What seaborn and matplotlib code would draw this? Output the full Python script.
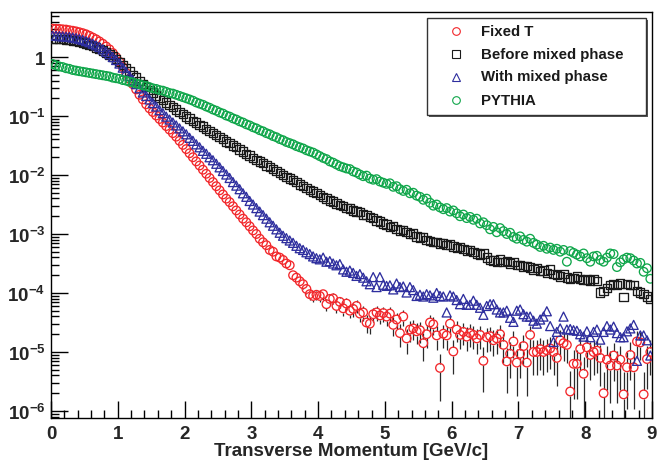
import numpy as np
import matplotlib
matplotlib.use("Agg")
import matplotlib.pyplot as plt
from matplotlib.lines import Line2D
from matplotlib.patches import Rectangle
from matplotlib.ticker import FixedLocator, FuncFormatter, MultipleLocator, NullFormatter
import seaborn as sns

# transverse-momentum histogram: 180 bins of 0.05 GeV/c from 0 to 9
pt_edges = np.linspace(0.0, 9.0, 181)
pt = 0.5 * (pt_edges[:-1] + pt_edges[1:])

fixed_t = [
    3.02, 3.01, 2.99, 2.95, 2.92, 2.85, 2.79, 2.72, 2.63, 2.54,
    2.43, 2.29, 2.14, 2.00, 1.84, 1.68, 1.51, 1.35, 1.17, 1.00,
    0.832, 0.676, 0.537, 0.427, 0.347, 0.282, 0.229, 0.191, 0.158, 0.135,
    0.117, 0.102, 0.0891, 0.0776, 0.0676, 0.0589, 0.0513, 0.0447, 0.0380, 0.0324,
    0.0275, 0.0234, 0.0200, 0.0170, 0.0145, 0.0123, 0.0105, 0.00891, 0.00759, 0.00646,
    0.00550, 0.00468, 0.00398, 0.00347, 0.00295, 0.00251, 0.00214, 0.00182, 0.00158, 0.00135,
    1.15e-3, 1.00e-3, 8.32e-4, 7.24e-4, 6.46e-4, 5.37e-4, 5.01e-4, 4.17e-4, 3.98e-4, 3.63e-4,
    3.16e-4, 2.95e-4, 2.00e-4, 1.82e-4, 1.58e-4, 1.41e-4, 1.17e-4, 9.55e-5, 8.91e-5, 9.33e-5,
    8.91e-5, 9.55e-5, 6.46e-5, 7.94e-5, 8.13e-5, 6.03e-5, 7.08e-5, 5.50e-5, 6.61e-5, 5.01e-5,
    5.37e-5, 6.03e-5, 4.47e-5, 4.68e-5, 3.16e-5, 3.02e-5, 4.37e-5, 4.68e-5, 4.17e-5, 4.57e-5,
    3.98e-5, 4.47e-5, 2.88e-5, 3.55e-5, 2.09e-5, 3.98e-5, 1.70e-5, 2.40e-5, 2.51e-5, 2.24e-5,
    2.34e-5, 1.41e-5, 2.00e-5, 3.16e-5, 2.95e-5, 1.91e-5, 5.37e-6, 2.04e-5, 1.91e-5, 3.02e-5,
    1.02e-5, 2.40e-5, 1.95e-5, 2.19e-5, 1.82e-5, 2.09e-5, 1.95e-5, 1.70e-5, 1.95e-5, 7.08e-6,
    1.78e-5, 1.86e-5, 1.58e-5, 1.70e-5, 2.00e-5, 1.32e-5, 6.92e-6, 9.33e-6, 1.51e-5, 6.61e-6,
    9.33e-6, 1.26e-5, 6.61e-6, 1.95e-5, 1.00e-5, 1.00e-5, 1.12e-5, 1.00e-5, 1.07e-5, 1.15e-5,
    1.00e-5, 7.94e-6, 1.58e-5, 1.41e-5, 1.32e-5, 2.14e-6, 6.31e-6, 6.31e-6, 1.12e-5, 4.27e-6,
    1.20e-5, 8.91e-6, 1.00e-5, 1.05e-5, 7.94e-6, 2.00e-6, 7.41e-6, 5.89e-6, 8.71e-6, 5.89e-6,
    7.41e-6, 1.91e-6, 5.50e-6, 8.91e-6, 5.50e-6, 1.51e-5, 1.45e-5, 1.91e-6, 7.59e-6, 1.00e-5,
]

# statistical errors of the fixed-T spectrum (negligible below 3 GeV/c)
fixed_t_err = [0.0] * 60 + [
    6.3e-5, 5.9e-5, 5.4e-5, 5.0e-5, 4.8e-5, 4.3e-5, 4.2e-5, 3.8e-5, 3.7e-5, 3.6e-5,
    3.3e-5, 3.2e-5, 2.6e-5, 2.5e-5, 2.4e-5, 2.2e-5, 2.0e-5, 1.8e-5, 1.8e-5, 1.8e-5,
    1.8e-5, 1.8e-5, 1.5e-5, 1.7e-5, 1.7e-5, 1.5e-5, 1.6e-5, 1.4e-5, 1.5e-5, 1.3e-5,
    1.4e-5, 1.5e-5, 1.3e-5, 1.3e-5, 1.05e-5, 1.0e-5, 1.2e-5, 1.3e-5, 1.2e-5, 1.3e-5,
    1.2e-5, 1.3e-5, 1.0e-5, 1.1e-5, 8.6e-6, 1.2e-5, 7.7e-6, 9.2e-6, 9.4e-6, 8.9e-6,
    9.1e-6, 7.0e-6, 8.4e-6, 1.05e-5, 1.0e-5, 8.2e-6, 3.9e-6, 8.5e-6, 8.2e-6, 1.0e-5,
    6.0e-6, 9.2e-6, 8.3e-6, 8.8e-6, 8.0e-6, 8.6e-6, 8.3e-6, 7.7e-6, 8.3e-6, 5.0e-6,
    7.9e-6, 8.1e-6, 7.4e-6, 7.7e-6, 8.4e-6, 6.8e-6, 4.9e-6, 5.7e-6, 7.3e-6, 4.8e-6,
    5.7e-6, 6.6e-6, 4.8e-6, 8.3e-6, 5.9e-6, 5.9e-6, 6.3e-6, 5.9e-6, 6.1e-6, 6.3e-6,
    5.9e-6, 5.3e-6, 7.4e-6, 7.0e-6, 6.8e-6, 2.7e-6, 4.7e-6, 4.7e-6, 6.3e-6, 3.9e-6,
    6.5e-6, 5.6e-6, 5.9e-6, 6.1e-6, 5.3e-6, 2.6e-6, 5.1e-6, 4.5e-6, 5.5e-6, 4.5e-6,
    5.1e-6, 2.6e-6, 4.4e-6, 5.6e-6, 4.4e-6, 7.3e-6, 7.1e-6, 2.6e-6, 5.2e-6, 5.9e-6,
]

before_mixed = [
    2.04, 2.04, 2.02, 2.00, 1.97, 1.95, 1.91, 1.86, 1.82, 1.76,
    1.70, 1.62, 1.55, 1.46, 1.38, 1.29, 1.20, 1.11, 1.02, 0.933,
    0.832, 0.741, 0.646, 0.575, 0.501, 0.447, 0.389, 0.347, 0.309, 0.275,
    0.251, 0.224, 0.204, 0.186, 0.170, 0.155, 0.141, 0.129, 0.117, 0.107,
    0.0977, 0.0912, 0.0832, 0.0776, 0.0708, 0.0661, 0.0603, 0.0562, 0.0513, 0.0479,
    0.0437, 0.0407, 0.0372, 0.0347, 0.0316, 0.0295, 0.0269, 0.0251, 0.0229, 0.0214,
    0.0195, 0.0182, 0.0170, 0.0158, 0.0145, 0.0135, 0.0126, 0.0117, 0.0107, 0.0100,
    0.00933, 0.00871, 0.00813, 0.00759, 0.00692, 0.00646, 0.00603, 0.00562, 0.00525, 0.00490,
    0.00457, 0.00427, 0.00398, 0.00372, 0.00355, 0.00331, 0.00309, 0.00302, 0.00275, 0.00269,
    0.00251, 0.00240, 0.00234, 0.00214, 0.00209, 0.00195, 0.00186, 0.00170, 0.00162, 0.00151,
    0.00145, 0.00132, 0.00138, 0.00120, 0.00115, 0.00117, 0.00107, 0.00100, 0.00102, 9.12e-4,
    8.71e-4, 8.91e-4, 7.94e-4, 7.59e-4, 7.24e-4, 7.41e-4, 6.92e-4, 7.08e-4, 6.46e-4, 6.61e-4,
    6.17e-4, 5.75e-4, 6.03e-4, 5.50e-4, 5.25e-4, 5.37e-4, 4.90e-4, 4.68e-4, 4.47e-4, 4.68e-4,
    3.98e-4, 3.63e-4, 3.55e-4, 3.39e-4, 3.72e-4, 3.39e-4, 3.47e-4, 3.16e-4, 3.31e-4, 2.95e-4,
    3.02e-4, 2.82e-4, 2.88e-4, 2.69e-4, 2.51e-4, 2.63e-4, 2.34e-4, 2.40e-4, 2.19e-4, 2.51e-4,
    2.09e-4, 2.00e-4, 1.91e-4, 2.09e-4, 1.82e-4, 1.74e-4, 1.78e-4, 1.91e-4, 1.74e-4, 1.66e-4,
    1.70e-4, 1.62e-4, 1.74e-4, 1.58e-4, 1.02e-4, 1.07e-4, 1.20e-4, 1.38e-4, 1.41e-4, 1.38e-4,
    1.45e-4, 8.51e-5, 1.41e-4, 1.35e-4, 1.38e-4, 1.07e-4, 1.02e-4, 9.55e-5, 8.71e-5, 7.94e-5,
]

with_mixed = [
    2.29, 2.29, 2.26, 2.24, 2.21, 2.19, 2.14, 2.09, 2.02, 1.95,
    1.86, 1.78, 1.68, 1.58, 1.48, 1.35, 1.23, 1.12, 1.00, 0.891,
    0.776, 0.661, 0.562, 0.479, 0.407, 0.347, 0.295, 0.251, 0.219, 0.191,
    0.166, 0.145, 0.126, 0.112, 0.0977, 0.0871, 0.0776, 0.0692, 0.0617, 0.0550,
    0.0490, 0.0427, 0.0380, 0.0331, 0.0295, 0.0257, 0.0229, 0.0200, 0.0178, 0.0155,
    0.0135, 0.0117, 0.0102, 0.00891, 0.00759, 0.00661, 0.00575, 0.00490, 0.00427, 0.00363,
    0.00316, 0.00275, 0.00240, 0.00209, 0.00182, 0.00158, 0.00138, 0.00120, 0.00105, 9.33e-4,
    8.51e-4, 7.76e-4, 7.08e-4, 6.31e-4, 5.75e-4, 5.37e-4, 4.90e-4, 4.57e-4, 4.17e-4, 3.89e-4,
    3.72e-4, 3.98e-4, 3.39e-4, 3.47e-4, 3.16e-4, 2.95e-4, 3.09e-4, 2.51e-4, 2.29e-4, 2.40e-4,
    2.19e-4, 1.95e-4, 2.09e-4, 1.82e-4, 1.58e-4, 1.41e-4, 1.86e-4, 1.26e-4, 1.86e-4, 1.38e-4,
    1.32e-4, 1.35e-4, 1.15e-4, 1.45e-4, 1.26e-4, 1.29e-4, 1.02e-4, 1.26e-4, 1.12e-4, 8.91e-5,
    9.33e-5, 8.71e-5, 9.55e-5, 9.12e-5, 8.32e-5, 1.00e-4, 8.91e-5, 8.71e-5, 4.68e-5, 9.12e-5,
    8.71e-5, 7.59e-5, 6.46e-5, 7.94e-5, 6.31e-5, 6.31e-5, 7.41e-5, 6.31e-5, 5.62e-5, 4.27e-5,
    6.03e-5, 6.46e-5, 6.46e-5, 5.25e-5, 4.68e-5, 4.68e-5, 5.01e-5, 3.80e-5, 3.24e-5, 5.01e-5,
    5.25e-5, 4.37e-5, 3.98e-5, 3.98e-5, 3.39e-5, 3.02e-5, 3.55e-5, 3.98e-5, 4.90e-5, 2.75e-5,
    1.48e-5, 2.19e-5, 2.51e-5, 3.98e-5, 2.40e-5, 2.45e-5, 2.34e-5, 2.29e-5, 2.00e-5, 1.82e-5,
    2.24e-5, 1.78e-5, 2.19e-5, 2.40e-5, 1.62e-5, 2.19e-5, 2.75e-5, 2.40e-5, 2.69e-5, 2.09e-5,
    1.78e-5, 1.78e-5, 2.24e-5, 2.51e-5, 2.88e-5, 7.08e-6, 1.91e-5, 1.91e-5, 1.58e-5, 8.71e-6,
]

pythia = [
    0.759, 0.724, 0.692, 0.676, 0.646, 0.631, 0.603, 0.589, 0.575, 0.562,
    0.550, 0.537, 0.525, 0.513, 0.501, 0.490, 0.479, 0.468, 0.447, 0.437,
    0.427, 0.407, 0.398, 0.380, 0.372, 0.355, 0.347, 0.331, 0.324, 0.309,
    0.295, 0.288, 0.275, 0.269, 0.257, 0.245, 0.240, 0.229, 0.219, 0.209,
    0.200, 0.191, 0.182, 0.170, 0.162, 0.155, 0.145, 0.138, 0.129, 0.123,
    0.115, 0.110, 0.102, 0.0977, 0.0912, 0.0871, 0.0813, 0.0776, 0.0724, 0.0692,
    0.0646, 0.0617, 0.0575, 0.0550, 0.0513, 0.0490, 0.0457, 0.0437, 0.0407, 0.0389,
    0.0363, 0.0347, 0.0331, 0.0309, 0.0295, 0.0282, 0.0263, 0.0251, 0.0240, 0.0224,
    0.0209, 0.0195, 0.0186, 0.0170, 0.0162, 0.0151, 0.0141, 0.0135, 0.0129, 0.0126,
    0.0115, 0.0110, 0.0102, 0.00955, 0.00977, 0.00871, 0.00832, 0.00851, 0.00776, 0.00741,
    0.00708, 0.00724, 0.00631, 0.00646, 0.00575, 0.00537, 0.00562, 0.00490, 0.00501, 0.00447,
    0.00427, 0.00380, 0.00398, 0.00339, 0.00302, 0.00316, 0.00282, 0.00263, 0.00275, 0.00240,
    0.00251, 0.00224, 0.00200, 0.00214, 0.00186, 0.00195, 0.00174, 0.00182, 0.00151, 0.00158,
    0.00141, 0.00120, 0.00132, 0.00107, 0.00126, 0.00112, 1.00e-3, 1.05e-3, 8.91e-4, 8.32e-4,
    9.12e-4, 7.94e-4, 7.41e-4, 8.32e-4, 7.08e-4, 6.61e-4, 6.03e-4, 6.31e-4, 5.62e-4, 5.89e-4,
    5.37e-4, 5.62e-4, 5.01e-4, 5.37e-4, 3.39e-4, 5.13e-4, 4.79e-4, 4.47e-4, 4.17e-4, 4.68e-4,
    3.89e-4, 3.39e-4, 4.17e-4, 4.27e-4, 3.63e-4, 3.39e-4, 3.98e-4, 4.68e-4, 4.57e-4, 2.75e-4,
    3.31e-4, 3.72e-4, 3.98e-4, 3.89e-4, 3.55e-4, 3.16e-4, 3.24e-4, 2.29e-4, 2.63e-4, 1.74e-4,
]

series_labels = ["Fixed T", "Before mixed phase", "With mixed phase", "PYTHIA"]
series_colors = ["#f2262a", "#1a1a1a", "#2e2e9e", "#0fa64a"]
series_markers = ["o", "s", "^", "o"]
series_sizes = [38, 36, 42, 38]

sns.set_style("ticks")
plt.rcParams["font.family"] = ["Liberation Sans", "DejaVu Sans"]
plt.rcParams["font.weight"] = "bold"
plt.rcParams["mathtext.fontset"] = "custom"
plt.rcParams["mathtext.rm"] = "Liberation Sans:bold"
plt.rcParams["mathtext.bf"] = "Liberation Sans:bold"
plt.rcParams["mathtext.default"] = "bf"
plt.rcParams["axes.linewidth"] = 1.0
plt.rcParams["axes.edgecolor"] = "black"

W, H = 667, 464
fig = plt.figure(figsize=(W / 100, H / 100), dpi=100)
fig.patch.set_facecolor("white")
ax = fig.add_axes([51 / W, 1 - 419 / H, 601 / W, 406 / H])
ax.set_facecolor("white")

y_lo, y_hi = 7.6e-7, 5.8
ax.set_yscale("log")
ax.set_xlim(0, 9)
ax.set_ylim(y_lo, y_hi)

# error bars of the fixed-T points, interrupted where the marker sits
y = np.asarray(fixed_t)
e = np.asarray(fixed_t_err)
gap = 10 ** 0.072
has_err = e > 0
up_top = y + e
up_bot = y * gap
m_up = has_err & (up_top > up_bot)
ax.vlines(pt[m_up], up_bot[m_up], up_top[m_up], colors="#2a2a2a", linewidth=0.9, zorder=2)
lo_bot = np.clip(y - e, y_lo * 0.5, None)
lo_top = y / gap
m_lo = has_err & (lo_bot < lo_top)
ax.vlines(pt[m_lo], lo_bot[m_lo], lo_top[m_lo], colors="#2a2a2a", linewidth=0.9, zorder=2)

# hollow markers for the four spectra
for values, label, color, marker, size in zip(
    [fixed_t, before_mixed, with_mixed, pythia],
    series_labels, series_colors, series_markers, series_sizes,
):
    sns.scatterplot(
        x=pt, y=values, ax=ax, marker=marker, s=size,
        color=color, facecolor="none", edgecolor=color, linewidth=0.95,
        legend=False, zorder=3, clip_on=True,
    )

# ROOT-like axes: ticks inside, bottom and left only
ax.xaxis.set_major_locator(MultipleLocator(1))
ax.xaxis.set_minor_locator(MultipleLocator(0.2))
decades = [1e-6, 1e-5, 1e-4, 1e-3, 1e-2, 1e-1, 1.0]
minor_y = [m * d for d in [1e-7, 1e-6, 1e-5, 1e-4, 1e-3, 1e-2, 1e-1, 1.0]
           for m in range(2, 10) if y_lo < m * d < y_hi]
ax.yaxis.set_major_locator(FixedLocator(decades))
ax.yaxis.set_minor_locator(FixedLocator(minor_y))
ax.yaxis.set_minor_formatter(NullFormatter())


def decade_label(v, _pos):
    k = int(round(np.log10(v)))
    if k == 0:
        return "1"
    return r"$10^{%d}$" % k


ax.yaxis.set_major_formatter(FuncFormatter(decade_label))
ax.tick_params(axis="both", which="major", direction="in", length=12, width=1.0,
               labelsize=13.5, top=False, right=False, color="black")
ax.tick_params(axis="both", which="minor", direction="in", length=6, width=1.0,
               top=False, right=False, color="black")
ax.tick_params(axis="x", which="major", pad=5)
ax.tick_params(axis="y", which="major", pad=4)
for lab in ax.get_xticklabels() + ax.get_yticklabels():
    lab.set_fontweight("bold")
for side in ["top", "right", "left", "bottom"]:
    ax.spines[side].set_visible(True)
    ax.spines[side].set_linewidth(1.0)

ax.set_xlabel("Transverse Momentum [GeV/c]", fontsize=13.5, fontweight="bold")
ax.xaxis.set_label_coords(0.5, -(452 - 419) / 406)
ax.xaxis.label.set_va("center")
ax.set_ylabel("")

# legend box with a thin drop shadow
lx0, lx1, ly0, ly1 = 427, 646, 19, 116
fig.add_artist(Rectangle(((lx0 + 2) / W, 1 - (ly1 + 2) / H), (lx1 - lx0) / W, (ly1 - ly0) / H,
                         transform=fig.transFigure, facecolor="#555555", edgecolor="none", zorder=9))
fig.add_artist(Rectangle((lx0 / W, 1 - ly1 / H), (lx1 - lx0) / W, (ly1 - ly0) / H,
                         transform=fig.transFigure, facecolor="white", edgecolor="#333333",
                         linewidth=1.0, zorder=10))
row_y = [31.5, 54.5, 77.5, 101]
for ry, label, color, marker in zip(row_y, series_labels, series_colors, series_markers):
    fig.add_artist(Line2D([456 / W], [1 - ry / H], marker=marker, markersize=5.5,
                          markerfacecolor="none", markeredgecolor=color, markeredgewidth=0.8,
                          linestyle="none", transform=fig.transFigure, zorder=11))
    fig.text(481 / W, 1 - ry / H, label, fontsize=10.8, fontweight="bold",
             ha="left", va="center", color="#1a1a1a", zorder=11)

fig.savefig("out.png", dpi=100, facecolor="white")
